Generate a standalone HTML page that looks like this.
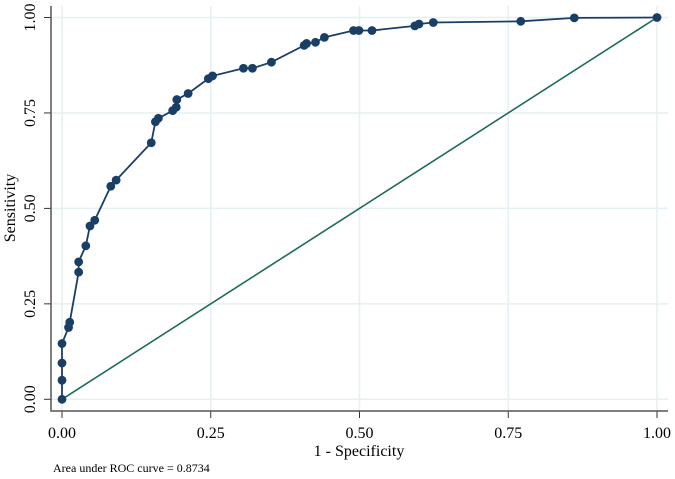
<!DOCTYPE html>
<html><head><meta charset="utf-8"><style>
body{margin:0;background:#fff}
svg{display:block;font-family:"Liberation Serif",serif}
</style></head><body>
<svg id="chart" width="675" height="479" viewBox="0 0 675 479">
<rect width="675" height="479" fill="#fff"/>
<g id="grid"></g>
<g id="axes"></g>
<line id="diag" stroke="#1e6a5a" stroke-width="1.6"/>
<g id="curve"></g>
<text x="359" y="456" font-size="16" text-anchor="middle">1 - Specificity</text>
<text transform="translate(15,208) rotate(-90)" font-size="16" text-anchor="middle">Sensitivity</text>
<text x="53" y="472" font-size="12">Area under ROC curve = 0.8734</text>
</svg>
<script>
const fpr = [0,0,0,0,0.011,0.013,0.028,0.028,0.040,0.047,0.055,0.082,0.091,0.150,0.157,0.162,0.186,0.192,0.193,0.212,0.246,0.253,0.305,0.320,0.352,0.407,0.411,0.426,0.441,0.490,0.499,0.521,0.593,0.600,0.624,0.771,0.861,1];
const tpr = [0,0.05,0.095,0.146,0.188,0.202,0.333,0.36,0.402,0.454,0.469,0.558,0.574,0.672,0.727,0.736,0.756,0.765,0.785,0.801,0.840,0.847,0.867,0.867,0.883,0.927,0.932,0.935,0.948,0.966,0.966,0.966,0.978,0.983,0.987,0.990,0.999,1];
const ticks = [0,0.25,0.5,0.75,1];
const tickLabels = ["0.00","0.25","0.50","0.75","1.00"];
const NS="http://www.w3.org/2000/svg";
const X=v=>62+v*595, Y=v=>399.3-v*381.8;
function mk(tag,attrs,parent){const e=document.createElementNS(NS,tag);for(const k in attrs)e.setAttribute(k,attrs[k]);parent.appendChild(e);return e;}
const grid=document.getElementById('grid'), axes=document.getElementById('axes'), curve=document.getElementById('curve');
ticks.forEach((t,i)=>{
 let g=mk('line',{x1:X(t),x2:X(t),y1:6,y2:411,stroke:'#e6eff1','stroke-width':1.5},grid);
 
 
 g=mk('line',{x1:51,x2:668,y1:Y(t),y2:Y(t),stroke:'#e6eff1','stroke-width':1.5},grid);
 
 
 let tk=mk('line',{x1:X(t),x2:X(t),y1:411,y2:418,stroke:'#333','stroke-width':1},axes);
 
 
 tk=mk('line',{x1:44,x2:51,y1:Y(t),y2:Y(t),stroke:'#333','stroke-width':1},axes);
 
 
 let lb=mk('text',{x:X(t),y:438,'font-size':16,'text-anchor':'middle'},axes);lb.textContent=tickLabels[i];
 
 
 lb=mk('text',{transform:`translate(35,${Y(t)}) rotate(-90)`,'font-size':16,'text-anchor':'middle'},axes);lb.textContent=tickLabels[i];
 
 
});
let ax=mk('line',{x1:51,x2:51,y1:6,y2:411.5,stroke:'#555','stroke-width':1.5},axes);


ax=mk('line',{x1:50.5,x2:668,y1:411,y2:411,stroke:'#555','stroke-width':1.5},axes);


const d=document.getElementById('diag');
d.setAttribute('x1',X(0));d.setAttribute('y1',Y(0));d.setAttribute('x2',X(1));d.setAttribute('y2',Y(1));
const pl=mk('polyline',{points:fpr.map((f,i)=>X(f)+','+Y(tpr[i])).join(' '),fill:'none',stroke:'#1a3f66','stroke-width':1.8},curve);


fpr.forEach((f,i)=>{
 const c=mk('circle',{cx:X(f),cy:Y(tpr[i]),r:4.4,fill:'#1a3f66'},curve);
 
 
});
</script>
</body></html>
